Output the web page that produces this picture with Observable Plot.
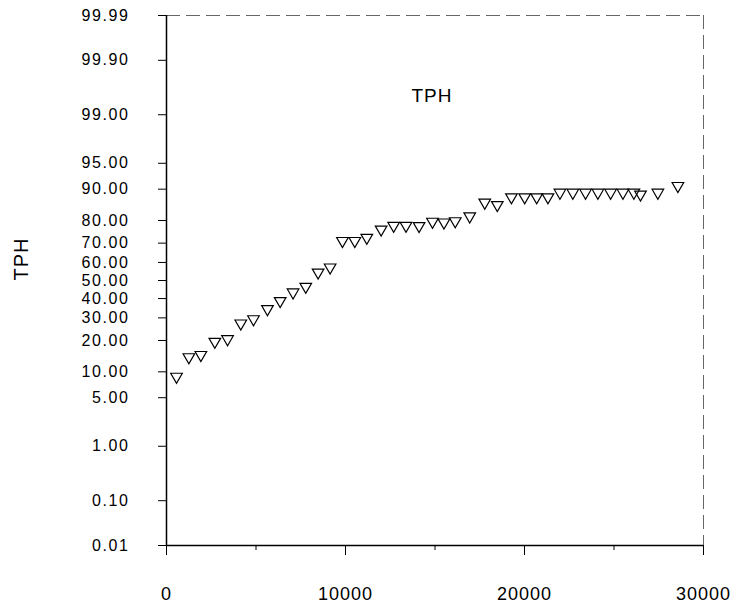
<!DOCTYPE html>
<html>
<head>
<meta charset="utf-8">
<script src="https://cdn.jsdelivr.net/npm/d3@7"></script>
<script src="https://cdn.jsdelivr.net/npm/@observablehq/plot@0.6"></script>
<style>
  body { margin: 0; background: #fff; }
  #chart svg text { letter-spacing: 1px; }
  #chart svg g.y-ticks text { letter-spacing: 1.6px; }
</style>
</head>
<body>
<div id="chart"></div>
<script>
// ---- data ----
const hours = [560, 1250, 1920, 2700, 3410, 4150, 4860, 5640, 6350, 7070,
               7780, 8470, 9140, 9830, 10520, 11190, 11990, 12690, 13380, 14110,
               14860, 15500, 16130, 16940, 17780, 18480, 19270, 20010, 20680, 21310,
               21980, 22700, 23410, 24100, 24810, 25500, 26110, 26480, 27450, 28570];
const tph = [8.5, 13.6, 14.3, 18.9, 19.9, 26.6, 28.6, 33.6, 37.8, 42.5,
             45.6, 53.6, 56.4, 70.3, 70.3, 71.8, 75.6, 77.2, 77.2, 77.1,
             78.9, 78.6, 79.1, 81.0, 85.8, 85.0, 87.4, 87.4, 87.4, 87.4,
             88.7, 88.7, 88.7, 88.7, 88.7, 88.7, 88.7, 88.2, 88.7, 90.4];

const yTickValues = [0.01, 0.1, 1, 5, 10, 20, 30, 40, 50, 60, 70, 80, 90, 95, 99, 99.9, 99.99];
const yTickLabels = ["0.01", "0.10", "1.00", "5.00", "10.00", "20.00", "30.00", "40.00", "50.00",
                     "60.00", "70.00", "80.00", "90.00", "95.00", "99.00", "99.90", "99.99"];
const xMajorTicks = [0, 10000, 20000, 30000];
const xMinorTicks = [5000, 15000, 25000];
const xDomain = [0, 30000];
const chartTitle = "TPH";
const yTitle = "TPH";

// ---- normal probability (probit) transform ----
function probit(p) {
  const a = [-3.969683028665376e+01, 2.209460984245205e+02, -2.759285104469687e+02,
             1.383577518672690e+02, -3.066479806614716e+01, 2.506628277459239e+00];
  const b = [-5.447609879822406e+01, 1.615858368580409e+02, -1.556989798598866e+02,
             6.680131188771972e+01, -1.328068155288572e+01];
  const c = [-7.784894002430293e-03, -3.223964580411365e-01, -2.400758277161838e+00,
             -2.549732539343734e+00, 4.374664141464968e+00, 2.938163982698783e+00];
  const d = [7.784695709041462e-03, 3.224671290700398e-01, 2.445134137142996e+00,
             3.754408661907416e+00];
  const pl = 0.02425, ph = 1 - pl;
  let q, r;
  if (p < pl) {
    q = Math.sqrt(-2 * Math.log(p));
    return (((((c[0]*q + c[1])*q + c[2])*q + c[3])*q + c[4])*q + c[5]) /
           ((((d[0]*q + d[1])*q + d[2])*q + d[3])*q + 1);
  } else if (p <= ph) {
    q = p - 0.5; r = q * q;
    return (((((a[0]*r + a[1])*r + a[2])*r + a[3])*r + a[4])*r + a[5]) * q /
           (((((b[0]*r + b[1])*r + b[2])*r + b[3])*r + b[4])*r + 1);
  } else {
    q = Math.sqrt(-2 * Math.log(1 - p));
    return -(((((c[0]*q + c[1])*q + c[2])*q + c[3])*q + c[4])*q + c[5]) /
            ((((d[0]*q + d[1])*q + d[2])*q + d[3])*q + 1);
  }
}
const toZ = pct => probit(pct / 100);

const data = hours.map((h, i) => ({hours: h, z: toZ(tph[i])}));
const zTicks = yTickValues.map(toZ);
const labelOf = new Map(zTicks.map((z, i) => [z, yTickLabels[i]]));
const zMin = zTicks[0], zMax = zTicks[zTicks.length - 1];

// inverted open triangle symbol
const invTriangle = {
  draw(ctx, size) {
    const r = Math.sqrt(size / Math.PI);
    const h = 2 * r * Math.sqrt(3) / 2;
    ctx.moveTo(-r, -h / 2);
    ctx.lineTo(r, -h / 2);
    ctx.lineTo(0, h / 2);
    ctx.closePath();
  }
};

const font = "'Liberation Sans', Arial, Helvetica, sans-serif";

const chart = Plot.plot({
  width: 730,
  height: 609,
  marginLeft: 166,
  marginRight: 27,
  marginTop: 15,
  marginBottom: 64,
  style: {fontFamily: font, background: "#fff", color: "#000", overflow: "visible"},
  x: {domain: xDomain, label: null},
  y: {domain: [zMin, zMax], label: null},
  marks: [
    Plot.ruleX([xDomain[1]], {stroke: "#666", strokeWidth: 1, strokeDasharray: "14,6"}),
    Plot.ruleY([zMax], {stroke: "#666", strokeWidth: 1, strokeDasharray: "14,6"}),
    Plot.ruleX([xDomain[0]], {stroke: "#000", strokeWidth: 1.5}),
    Plot.ruleY([zMin], {stroke: "#000", strokeWidth: 1.5}),
    Plot.axisY(zTicks, {
      anchor: "left", tickSize: 8, tickPadding: 29,
      tickFormat: z => labelOf.get(z), fontSize: 16, fontFamily: font,
      className: "y-ticks"
    }),
    Plot.axisX(xMajorTicks, {
      anchor: "bottom", tickSize: 10, tickPadding: 32,
      tickFormat: d => String(d), fontSize: 18, fontFamily: font
    }),
    Plot.axisX(xMinorTicks, {anchor: "bottom", tickSize: 5, tickFormat: () => ""}),
    Plot.dot(data, {
      x: "hours", y: "z", symbol: invTriangle, r: 5.8,
      stroke: "#000", fill: "none", strokeWidth: 1.2
    }),
    Plot.text([chartTitle], {frameAnchor: "top", dx: -3, dy: 73, fontSize: 19, fontFamily: font, fill: "#000"}),
    Plot.text([yTitle], {frameAnchor: "left", dx: -145, rotate: -90, fontSize: 20, fontFamily: font, fill: "#000"})
  ]
});
document.getElementById("chart").appendChild(chart);
</script>
</body>
</html>
